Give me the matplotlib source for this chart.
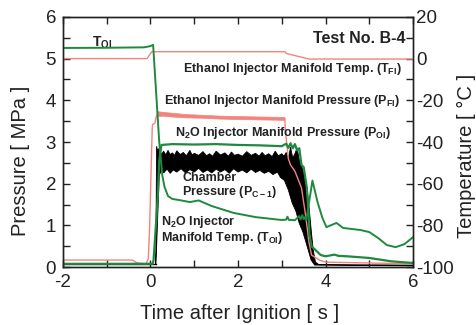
import numpy as np
import matplotlib
matplotlib.use('Agg')
import matplotlib.pyplot as plt

plt.rcParams['font.family'] = ['Liberation Sans', 'DejaVu Sans']
plt.rcParams['mathtext.fontset'] = 'custom'
plt.rcParams['mathtext.rm'] = 'Liberation Sans'
plt.rcParams['mathtext.bf'] = 'Liberation Sans:bold'
plt.rcParams['mathtext.default'] = 'bf'

# Ethanol injector manifold temperature T_FI [degC]
t_tfi = [-2, -0.08, 0.03, 3.08, 3.1, 3.35, 3.62, 6]
T_fi = [0.0, 0.0, 3.3, 3.3, 2.5, 1.2, -0.2, -0.2]

# N2O injector manifold temperature T_OI [degC]
t_toi = [-2, -1.0, -0.15, 0.0, 0.06, 0.2, 0.27, 0.32, 0.4, 0.5, 0.65, 0.9, 1.1, 1.4,
         1.9, 2.4, 2.7, 3.0, 3.1, 3.13, 3.16, 3.3, 3.4, 3.43, 3.47, 3.5, 3.53, 3.56,
         3.7, 3.82, 3.93, 4.02, 4.25, 4.4, 4.8, 5.0, 5.2, 5.4, 5.6, 5.8, 6.0]
T_oi = [5.1, 5.2, 5.4, 6.0, 6.6, -40, -56, -61.5, -65.9, -67.3, -67.8, -68.8, -68.0, -70.7,
        -74, -76, -76.7, -77.4, -77.2, -75.8, -77.3, -77.5, -75.5, -77.2, -75.0, -77.0, -76.0, -77.4,
        -58.5, -69.0, -76.5, -80.8, -78.8, -81.2, -82.2, -83.2, -86.0, -89.4, -90.4, -89.0, -85.6]

# Ethanol injector manifold pressure P_FI [MPa]
t_pfi = [-2, -0.42, -0.3, -0.1, -0.05, -0.02, 0.0, 0.02, 0.04, 0.05, 0.1, 0.13, 0.17]
P_fi = [0.17, 0.17, 0.1, 0.08, 0.2, 0.96, 1.77, 2.56, 3.35, 3.42, 3.45, 3.6, 3.68]
t_pfi_band = [0.15, 0.3, 0.5, 0.8, 1.2, 1.6, 2.0, 2.5, 3.07]
P_fi_hi = [3.73, 3.71, 3.69, 3.66, 3.64, 3.62, 3.61, 3.6, 3.59]
P_fi_lo = [3.61, 3.62, 3.6, 3.58, 3.57, 3.55, 3.54, 3.53, 3.52]
t_pfi_end = [3.07, 3.08, 3.15, 3.2, 3.3, 3.45, 3.55, 3.62, 3.68, 3.86, 4.0, 5.0, 6.0]
P_fi_end = [3.55, 3.3, 2.6, 2.45, 2.3, 1.9, 1.2, 0.6, 0.29, 0.17, 0.12, 0.1, 0.08]

# N2O injector manifold pressure P_OI [MPa]
t_poi = [-2, 0.05, 0.07, 0.13, 0.17, 0.2, 0.25, 0.5, 1.0, 1.5, 2.0, 2.5, 3.0, 3.1, 3.15,
         3.2, 3.25, 3.3, 3.35, 3.4, 3.45, 3.5, 3.57, 3.61, 3.63, 3.68, 3.89, 4.0, 4.2, 4.3,
         4.5, 5.0, 5.5, 6.0]
P_oi = [0.08, 0.08, 0.17, 1.1, 1.77, 2.56, 2.93, 2.95, 2.94, 2.95, 2.93, 2.92, 2.9, 2.96, 2.86,
        2.97, 2.85, 2.95, 2.8, 2.85, 2.45, 2.4, 1.92, 1.37, 0.8, 0.5, 0.29, 0.26, 0.3, 0.27,
        0.26, 0.22, 0.14, 0.1]

# Chamber pressure P_C-1 [MPa]: quiet part and the noisy band during firing
t_pc = [-2, 0.12]
P_pc = [0.07, 0.07]
t_pc_hi = [0.12, 0.14, 0.16, 0.2, 0.25, 0.3, 0.35, 0.4, 0.45, 0.5, 0.55, 0.6, 0.68, 0.75,
           0.82, 0.9, 0.95, 1.0, 1.1, 1.2, 1.28, 1.35, 1.42, 1.5, 1.6, 1.7, 1.78, 1.85, 1.92,
           2.0, 2.1, 2.2, 2.3, 2.4, 2.48, 2.55, 2.62, 2.7, 2.78, 2.85, 2.92, 3.0, 3.05, 3.1,
           3.15, 3.2, 3.25, 3.3, 3.35, 3.4, 3.46, 3.52, 3.59, 3.63, 3.68, 3.72, 3.77, 3.85, 6.0]
P_pc_hi = [0.07, 2.9, 2.8, 2.85, 2.7, 2.78, 2.69, 2.8, 2.7, 2.74, 2.68, 2.79, 2.7, 2.75,
           2.67, 2.8, 2.69, 2.73, 2.68, 2.77, 2.67, 2.72, 2.66, 2.78, 2.69, 2.74, 2.66, 2.76, 2.68,
           2.71, 2.66, 2.77, 2.68, 2.73, 2.66, 2.75, 2.67, 2.72, 2.65, 2.78, 2.67, 2.72, 2.66, 2.75,
           2.6, 2.88, 2.62, 2.72, 2.86, 2.57, 2.4, 2.16, 1.77, 1.37, 0.8, 0.4, 0.12, 0.06, 0.05]
t_pc_lo = [0.12, 0.14, 0.2, 0.25, 0.3, 0.38, 0.45, 0.52, 0.6, 0.7, 0.8, 0.9, 1.0, 1.1, 1.2,
           1.3, 1.4, 1.5, 1.6, 1.7, 1.8, 1.9, 2.0, 2.1, 2.2, 2.3, 2.4, 2.5, 2.6, 2.7, 2.8,
           2.9, 2.97, 3.06, 3.15, 3.24, 3.32, 3.4, 3.48, 3.56, 3.67, 3.75, 6.0]
P_pc_lo = [0.07, 0.5, 2.2, 2.32, 2.26, 2.35, 2.25, 2.33, 2.28, 2.36, 2.26, 2.34, 2.28, 2.37, 2.27,
           2.33, 2.26, 2.35, 2.28, 2.34, 2.25, 2.36, 2.28, 2.33, 2.26, 2.35, 2.27, 2.32, 2.25, 2.3,
           2.22, 2.28, 2.15, 2.08, 1.85, 1.53, 1.35, 1.05, 0.85, 0.57, 0.17, 0.05, 0.03]

red = '#f2837d'
green = '#1e8a3e'
ink = '#222222'

fig = plt.figure(figsize=(4.77, 3.25), dpi=100)
ax = fig.add_axes([0.132, 0.178, 0.734, 0.77])
ax2 = ax.twinx()

# chamber pressure band
ax.plot(t_pc, P_pc, color='k', lw=1.0)
ax.fill(np.r_[t_pc_hi, t_pc_lo[::-1]], np.r_[P_pc_hi, P_pc_lo[::-1]], color='k', lw=0.6, ec='k')

# ethanol manifold pressure
ax.plot(t_pfi, P_fi, color=red, lw=1.0)
ax.fill(np.r_[t_pfi_band, t_pfi_band[::-1]], np.r_[P_fi_hi, P_fi_lo[::-1]], color=red, lw=0.5)
ax.plot(t_pfi_end, P_fi_end, color=red, lw=1.0)

# N2O manifold pressure
ax.plot(t_poi, P_oi, color=green, lw=1.6)

# temperatures on the right axis
ax2.plot(t_tfi, T_fi, color=red, lw=1.0)
ax2.plot(t_toi, T_oi, color=green, lw=1.4)

ax.set_xlim(-2, 6)
ax.set_ylim(0, 6)
ax2.set_ylim(-100, 20)
ax.set_xticks([-2, 0, 2, 4, 6])
ax.set_xticks([-1, 1, 3, 5], minor=True)
ax.set_yticks(range(0, 7))
ax.set_yticks(np.arange(0.5, 6, 1.0), minor=True)
ax2.set_yticks(range(-100, 21, 20))
ax2.set_yticks(range(-90, 20, 20), minor=True)
ax.set_xticklabels(['-2', '0', '2', '4', '6'])
ax2.set_yticklabels([str(v) for v in range(-100, 21, 20)])

for a in (ax, ax2):
    for s in a.spines.values():
        s.set_linewidth(1.0)
        s.set_color(ink)
ax.tick_params(which='both', direction='in', length=5, width=1, color=ink,
               labelsize=13.5, labelcolor=ink, top=True, right=False)
ax.tick_params(axis='x', which='both', pad=5)
ax.tick_params(axis='y', which='both', pad=5)
ax2.tick_params(which='both', direction='in', length=5, width=1, color=ink,
                labelsize=13.5, labelcolor=ink, pad=2)

fig.text(0.502, 0.035, 'Time after Ignition [ s ]', ha='center', va='center', fontsize=14.5, color=ink)
fig.text(0.042, 0.505, 'Pressure [ MPa ]', ha='center', va='center', rotation=90, fontsize=14.5, color=ink)
fig.text(0.977, 0.52, 'Temperature [ °C ]', ha='center', va='center', rotation=90, fontsize=14.5, color=ink)

kw = dict(fontsize=9, fontweight='bold', color=ink)
ax.text(5.83, 5.49, 'Test No. B-4', ha='right', va='center', fontsize=11.5, fontweight='bold', color=ink)
ax.text(-1.33, 5.37, r'$\mathbf{T_{OI}}$', ha='left', va='center', fontsize=10, color=ink)
ax.text(0.75, 4.75, r'Ethanol Injector Manifold Temp. ($\mathbf{T_{FI}}$)', ha='left', va='center', **kw)
ax.text(0.3, 3.98, r'Ethanol Injector Manifold Pressure ($\mathbf{P_{FI}}$)', ha='left', va='center', **kw)
ax.text(0.57, 3.21, r'N$\mathbf{_2}$O Injector Manifold Pressure ($\mathbf{P_{OI}}$)', ha='left', va='center', **kw)
ax.text(0.73, 1.95, 'Chamber\n' + r'Pressure ($\mathbf{P_{C-1}}$)', ha='left', va='center', linespacing=1.05, **kw)
ax.text(0.25, 0.89, r'N$\mathbf{_2}$O Injector' + '\n' + r'Manifold Temp. ($\mathbf{T_{OI}}$)', ha='left', va='center', linespacing=1.05, **kw)

fig.savefig('out.png', dpi=100)
